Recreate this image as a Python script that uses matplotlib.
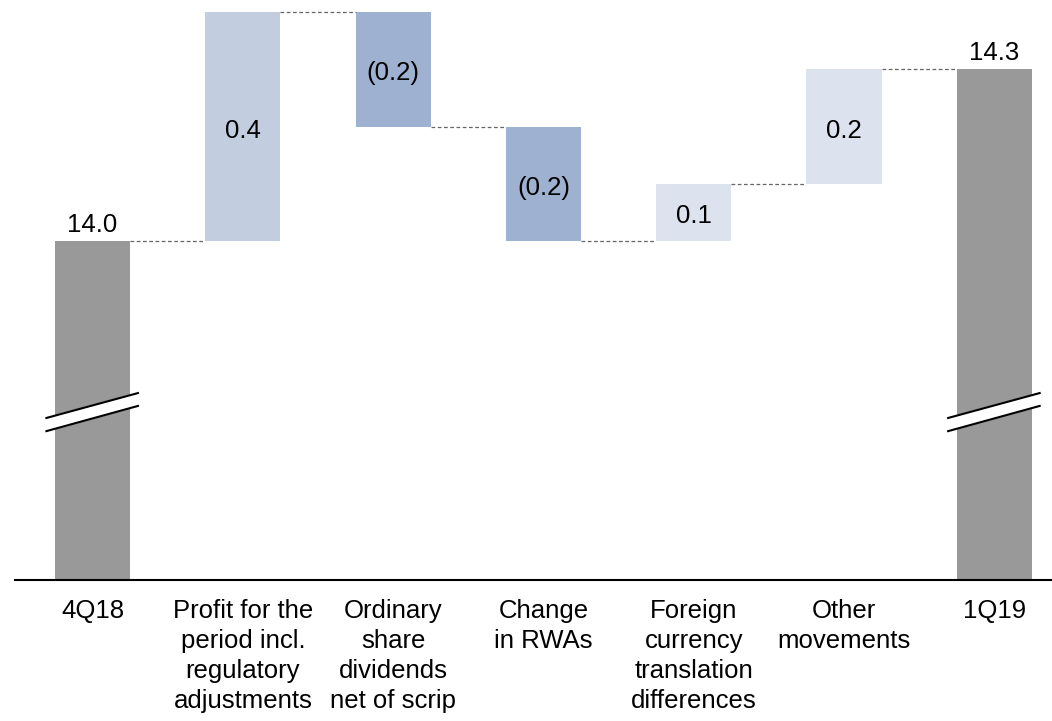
import numpy as np
import matplotlib
matplotlib.use('Agg')
import matplotlib.pyplot as plt

plt.rcParams['font.family'] = ['Liberation Sans', 'DejaVu Sans']

categories = ['4Q18', 'Profit for the\nperiod incl.\nregulatory\nadjustments',
              'Ordinary\nshare\ndividends\nnet of scrip', 'Change\nin RWAs',
              'Foreign\ncurrency\ntranslation\ndifferences', 'Other\nmovements', '1Q19']
start_val = 14.0
deltas = [0.4, -0.2, -0.2, 0.1, 0.2]
end_val = 14.3
delta_labels = ['0.4', '(0.2)', '(0.2)', '0.1', '0.2']
delta_colors = ['#C2CEE0', '#9FB1D0', '#9FB1D0', '#DCE3EE', '#DCE3EE']
total_color = '#999999'

ymin, ymax = 13.408, 14.421
w = 0.5
fs = 18.5

fig = plt.figure(figsize=(10.52, 7.21), dpi=100)
ax = fig.add_axes([15/1052, 141/721, 1037/1052, 580/721])
x = np.arange(len(categories))

# totals
ax.bar(x[0], start_val - ymin, bottom=ymin, width=w, color=total_color)
ax.bar(x[-1], end_val - ymin, bottom=ymin, width=w, color=total_color)

# deltas
level = start_val
levels = [level]
for i, d in enumerate(deltas):
    lo, hi = min(level, level + d), max(level, level + d)
    ax.bar(x[i + 1], hi - lo, bottom=lo, width=w, color=delta_colors[i])
    ax.text(x[i + 1], (lo + hi) / 2 - 0.007, delta_labels[i], ha='center', va='center', fontsize=fs)
    level = level + d
    levels.append(level)
levels.append(end_val)

# connectors
for i in range(len(categories) - 1):
    ax.plot([x[i] + w/2, x[i + 1] - w/2], [levels[i], levels[i]],
            ls=(0, (3, 2)), color='#666666', lw=0.9)

ax.text(x[0], start_val + 0.016, '%.1f' % start_val, ha='center', va='baseline', fontsize=fs)
ax.text(x[-1], end_val + 0.016, '%.1f' % end_val, ha='center', va='baseline', fontsize=fs)

# axis break marks on the total bars
for xc in [x[0], x[-1]]:
    xs = [xc - 0.307, xc + 0.302]
    up = [13.691, 13.7345]
    lo = [13.668, 13.712]
    ax.fill([xs[0], xs[1], xs[1], xs[0]], [up[0], up[1], lo[1], lo[0]], color='white', zorder=3)
    ax.plot(xs, up, color='black', lw=1.5, zorder=4)
    ax.plot(xs, lo, color='black', lw=1.5, zorder=4)

ax.set_xlim(-0.516, 6.384)
ax.set_ylim(ymin, ymax)
ax.set_xticks(x)
ax.set_xticklabels(categories, fontsize=fs, linespacing=1.3)
ax.tick_params(axis='x', length=0, pad=14)
ax.set_yticks([])
for s in ['top', 'right', 'left']:
    ax.spines[s].set_visible(False)
ax.spines['bottom'].set_linewidth(1.5)

plt.savefig('out.png', dpi=100)
